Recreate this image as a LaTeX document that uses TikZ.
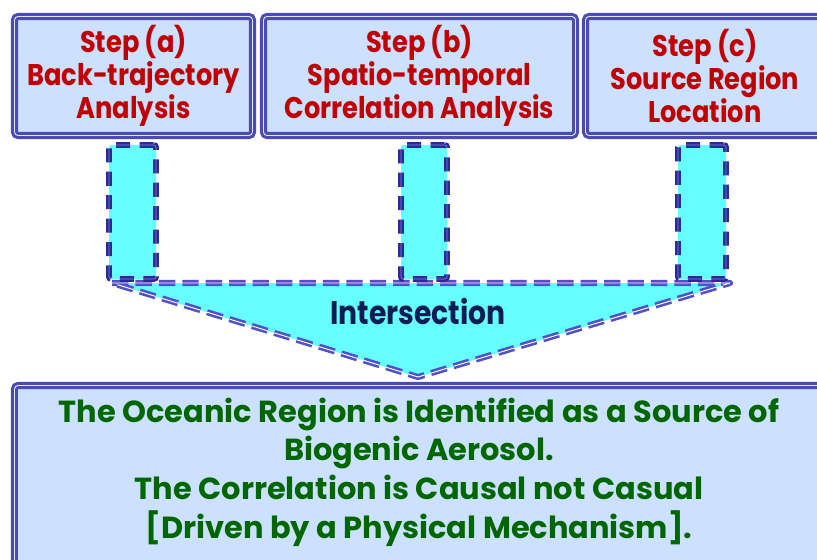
\documentclass[tikz,border=0pt]{standalone}
\usepackage{fontspec}
\setmainfont{Poppins}[FakeStretch=0.86]
\newfontfamily\resfont{Poppins}
\usetikzlibrary{positioning}
\definecolor{frameblue}{RGB}{75,75,180}
\definecolor{frameline}{RGB}{225,232,255}
\definecolor{boxblue}{RGB}{204,224,255}
\definecolor{stepred}{RGB}{192,0,0}
\definecolor{resgreen}{RGB}{0,102,0}
\definecolor{meetnavy}{RGB}{12,28,84}
\definecolor{linknavy}{RGB}{42,42,150}
\definecolor{linkline}{RGB}{120,130,225}
\definecolor{linkcyan}{RGB}{102,255,255}
\definecolor{meetdash}{RGB}{80,80,200}

\tikzset{
  stepbox/.style={draw=frameblue, double=frameline, line width=2.6pt,
    double distance=0.8pt, fill=boxblue, rounded corners=3pt, inner sep=0pt},
  steptext/.style={text=stepred, align=center,
    font=\fontsize{25.5}{28}\selectfont\bfseries},
  linkbox/.style={draw=linknavy, double=linkline, line width=2.2pt,
    double distance=0.6pt, fill=linkcyan, dash pattern=on 12pt off 8pt,
    rounded corners=2pt, inner sep=0pt},
  meetarrow/.style={draw=meetdash, double=white, line width=2.2pt,
    double distance=0.8pt, fill=linkcyan, dash pattern=on 14pt off 6pt,
    line join=round},
  restext/.style={text=resgreen, align=center,
    font=\resfont\fontsize{26}{33}\selectfont\bfseries}
}

\begin{document}
\begin{tikzpicture}[x=0.03cm, y=-0.03cm]
  \useasboundingbox (0,0) rectangle (817,559);
  \clip (0,0) rectangle (817,559);

  % the three steps
  \node[stepbox, minimum width=7.14cm, minimum height=3.57cm] (stepa) at (133.5,76) {};
  \node[stepbox, minimum width=9.36cm, minimum height=3.57cm] (stepb) at (419.5,76) {};
  \node[stepbox, minimum width=7.26cm, minimum height=3.57cm] (stepc) at (706.5,76) {};
  \node[steptext] (texta) at (stepa) {Step (a)\\Back-trajectory\\Analysis};
  \node[steptext] (textb) at (stepb) {Step (b)\\Spatio-temporal\\Correlation Analysis};
  \node[steptext] (textc) at (705,76) {Step (c)\\Source Region\\Location};

  % intersection
  \coordinate (meetl) at (112,283);
  \coordinate (meetr) at (730,283);
  \coordinate (apex) at (418,377);
  \draw[meetarrow] (meetl) -- (meetr) -- (apex) -- cycle;
  \node[text=meetnavy, font=\fontsize{28}{30}\selectfont\bfseries] (meet) at (418,311) {Intersection};

  \node[linkbox, minimum width=1.41cm, minimum height=4.02cm] (linka) at (132.5,212) {};
  \node[linkbox, minimum width=1.38cm, minimum height=4.02cm] (linkb) at (424,212) {};
  \node[linkbox, minimum width=1.44cm, minimum height=4.02cm] (linkc) at (702,212) {};

  % result
  \node[stepbox, minimum width=24.27cm, minimum height=6.42cm] (result) at (419,492.5) {};
  \node[restext] (restxt) at (419,472) {The Oceanic Region is Identified as a Source of\\
    Biogenic Aerosol.\\
    The Correlation is Causal not Casual\\
    {[}Driven by a Physical Mechanism{]}.};
\end{tikzpicture}
\end{document}
